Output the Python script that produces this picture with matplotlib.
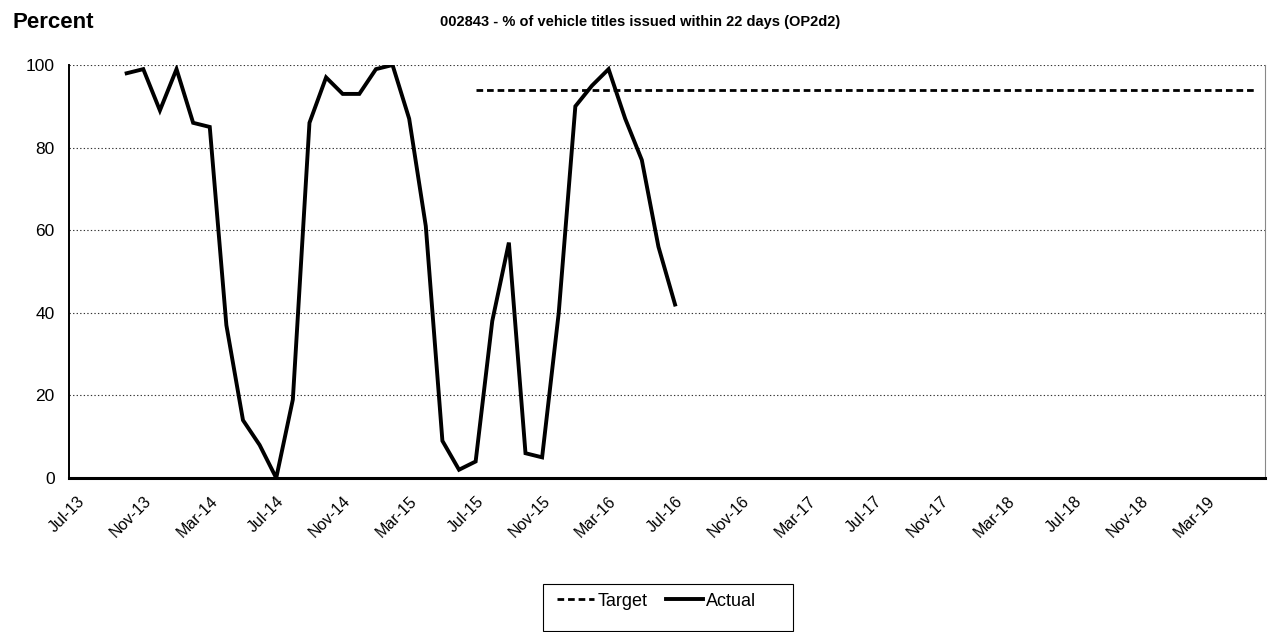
import matplotlib
matplotlib.use("Agg")
from matplotlib import pyplot as plt
from matplotlib.patches import Rectangle
import numpy as np
import pandas as pd

plt.rcParams["font.family"] = ["Liberation Sans", "DejaVu Sans"]

# monthly categories on the axis
months = list(pd.date_range("2013-07-01", "2019-06-01", freq="MS").strftime("%b-%y"))

actual_start = "Oct-13"
actual = [98, 99, 89, 99, 86, 85, 37, 14, 8, 0, 19, 86,
          97, 93, 93, 99, 100, 87, 61, 9, 2, 4, 38, 57,
          6, 5, 40, 90, 95, 99, 87, 77, 56, 42]

target_start = "Jul-15"
target_end = "Jun-19"
target_value = 94

tick_labels = ["Jul-13", "Nov-13", "Mar-14", "Jul-14", "Nov-14", "Mar-15",
               "Jul-15", "Nov-15", "Mar-16", "Jul-16", "Nov-16", "Mar-17",
               "Jul-17", "Nov-17", "Mar-18", "Jul-18", "Nov-18", "Mar-19"]

title = "002843 - % of vehicle titles issued within 22 days (OP2d2)"

a0 = months.index(actual_start)
x_actual = np.arange(a0, a0 + len(actual))
t0 = months.index(target_start)
t1 = months.index(target_end)
x_target = np.arange(t0, t1 + 1)
y_target = [target_value] * len(x_target)

W, H = 1272, 632
fig = plt.figure(figsize=(W / 100, H / 100), dpi=100)
ax = fig.add_axes([68.5 / W, 1 - 478 / H, (1265 - 68.5) / W, (478 - 65) / H])

ax.plot(x_target, y_target, color="black", lw=2.0, ls=(0, (2.4, 1.4)), label="Target")
ax.plot(x_actual, actual, color="black", lw=2.8, solid_joinstyle="miter", label="Actual")

ax.set_xlim(-0.5, len(months) - 0.5)
ax.set_ylim(0, 100)
ax.set_yticks([0, 20, 40, 60, 80, 100])
ax.yaxis.grid(True, ls=(0, (1.2, 2)), color="#333333", lw=0.8)
ax.set_axisbelow(True)

ax.set_xticks([months.index(m) for m in tick_labels])
ax.set_xticklabels(tick_labels, rotation=45, ha="right", va="top",
                   rotation_mode="anchor", fontsize=11.5)
ax.tick_params(axis="both", length=0)
ax.tick_params(axis="y", labelsize=12.5, pad=10)
ax.tick_params(axis="x", pad=11)

ax.spines["top"].set_visible(False)
ax.spines["right"].set_color("#888888")
ax.spines["right"].set_linewidth(0.8)
ax.spines["left"].set_linewidth(1.4)
ax.spines["bottom"].set_linewidth(2.2)

fig.text(12 / W, 1 - 22 / H, "Percent", fontsize=16, fontweight="bold",
         ha="left", va="center")
fig.text(640 / W, 1 - 22 / H, title, fontsize=10.5, fontweight="bold",
         ha="center", va="center")

# legend box
fig.patches.append(Rectangle((543 / W, 1 - 631 / H), 250 / W, 47 / H,
                             transform=fig.transFigure, fill=False,
                             edgecolor="black", lw=0.8))
leg = fig.legend(loc="center left", bbox_to_anchor=(548 / W, 1 - 601 / H), ncol=2,
                 frameon=False, fontsize=13, handlelength=2.05,
                 columnspacing=1.0, borderpad=0, handletextpad=0.2)

fig.savefig("out.png", dpi=100)
plt.close(fig)
